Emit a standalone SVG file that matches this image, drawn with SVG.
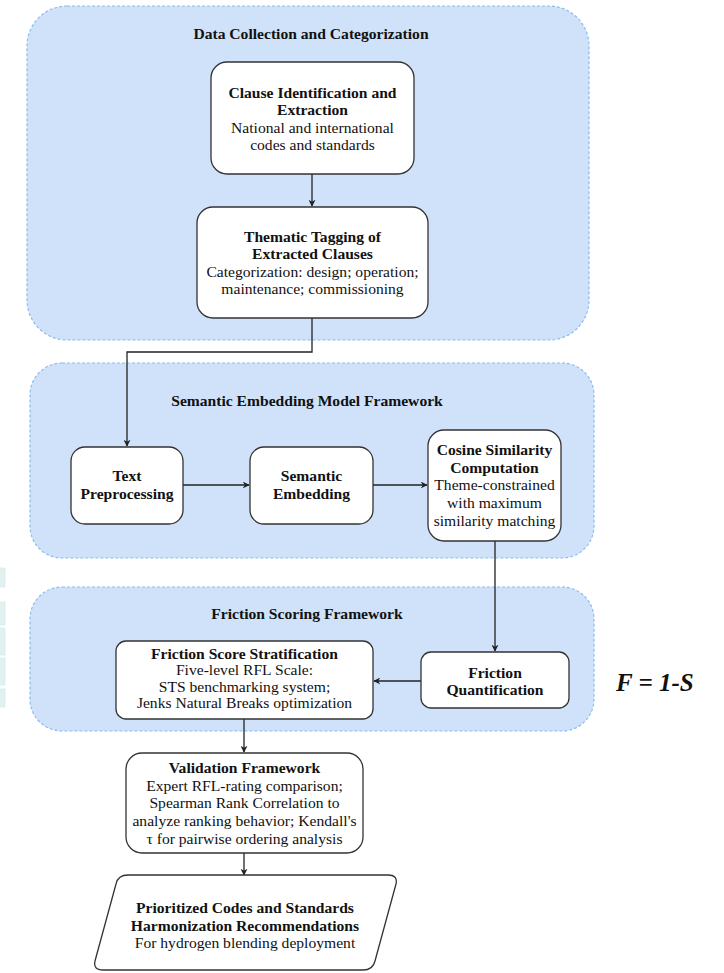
<svg xmlns="http://www.w3.org/2000/svg" width="724" height="973" viewBox="0 0 724 973">
<style>
.cont{fill:#cfe2f9;stroke:#8dbcf2;stroke-width:1.2;stroke-dasharray:3 2}
.node{fill:#ffffff;stroke:#333333;stroke-width:1.3}
.t{font-family:"Liberation Serif","Times New Roman",serif;font-size:15.6px;fill:#111;text-anchor:middle}
.b{font-weight:bold}
.title{font-family:"Liberation Serif","Times New Roman",serif;font-size:15.6px;font-weight:bold;fill:#111;text-anchor:middle}
.edge{fill:none;stroke:#222;stroke-width:1.3}
.strip{fill:#e2f1f0;stroke:#cfe6e4;stroke-width:0.6}
</style>
<defs>
<marker id="ah" viewBox="0 0 10 10" refX="9" refY="5" markerWidth="7" markerHeight="7" orient="auto" markerUnits="userSpaceOnUse">
<path d="M0,0 L10,5 L0,10 L3,5 Z" fill="#222"/>
</marker>
</defs>
<rect width="724" height="973" fill="#ffffff"/>
<g id="edge-strips">
<rect class="strip" x="-1" y="568" width="6" height="19"/>
<rect class="strip" x="-1" y="602" width="6" height="23"/>
<rect class="strip" x="-1" y="628" width="6" height="27"/>
<rect class="strip" x="-1" y="658" width="6" height="27"/>
<rect class="strip" x="-1" y="689" width="6" height="18"/>
</g>
<g id="group-data">
<rect class="cont" x="27" y="6" width="562" height="334" rx="40"/>
<text class="title" x="311" y="39">Data Collection and Categorization</text>
</g>
<g id="group-semantic">
<rect class="cont" x="30" y="363" width="564" height="195" rx="32"/>
<text class="title" x="307" y="406">Semantic Embedding Model Framework</text>
</g>
<g id="group-friction">
<rect class="cont" x="30" y="587" width="564" height="144" rx="32"/>
<text class="title" x="307" y="619">Friction Scoring Framework</text>
</g>
<g id="connectors">
<path class="edge" d="M312,174 L312,206" marker-end="url(#ah)"/>
<path class="edge" d="M312,318 L312,352 L127,352 L127,446" marker-end="url(#ah)"/>
<path class="edge" d="M183,485 L249,485" marker-end="url(#ah)"/>
<path class="edge" d="M373,485 L427,485" marker-end="url(#ah)"/>
<path class="edge" d="M495,541 L495,651" marker-end="url(#ah)"/>
<path class="edge" d="M421,681 L374,681" marker-end="url(#ah)"/>
<path class="edge" d="M244,719 L244,752" marker-end="url(#ah)"/>
<path class="edge" d="M244,853 L244,875" marker-end="url(#ah)"/>
</g>
<g id="node-clause">
<rect class="node" x="211" y="62" width="203" height="112" rx="16"/>
<text class="t b" x="312.5" y="98">Clause Identification and</text>
<text class="t b" x="312.5" y="115">Extraction</text>
<text class="t" x="312.5" y="133">National and international</text>
<text class="t" x="312.5" y="150">codes and standards</text>
</g>
<g id="node-tagging">
<rect class="node" x="197" y="207" width="231" height="111" rx="16"/>
<text class="t b" x="312.5" y="242">Thematic Tagging of</text>
<text class="t b" x="312.5" y="259">Extracted Clauses</text>
<text class="t" x="312.5" y="277">Categorization: design; operation;</text>
<text class="t" x="312.5" y="294">maintenance; commissioning</text>
</g>
<g id="node-text-preprocessing">
<rect class="node" x="71" y="447" width="112" height="77" rx="14"/>
<text class="t b" x="127" y="481">Text</text>
<text class="t b" x="127" y="499">Preprocessing</text>
</g>
<g id="node-semantic-embedding">
<rect class="node" x="250" y="447" width="123" height="77" rx="14"/>
<text class="t b" x="311.5" y="481">Semantic</text>
<text class="t b" x="311.5" y="499">Embedding</text>
</g>
<g id="node-cosine">
<rect class="node" x="428" y="430" width="133" height="111" rx="16"/>
<text class="t b" x="494.5" y="455">Cosine Similarity</text>
<text class="t b" x="494.5" y="473">Computation</text>
<text class="t" x="494.5" y="490">Theme-constrained</text>
<text class="t" x="494.5" y="508">with maximum</text>
<text class="t" x="494.5" y="526">similarity matching</text>
</g>
<g id="node-friction-quant">
<rect class="node" x="421" y="652" width="148" height="56" rx="10"/>
<text class="t b" x="495" y="678">Friction</text>
<text class="t b" x="495" y="695">Quantification</text>
</g>
<g id="node-friction-strat">
<rect class="node" x="116" y="641" width="257" height="78" rx="10"/>
<text class="t b" x="244.5" y="659">Friction Score Stratification</text>
<text class="t" x="244.5" y="675">Five-level RFL Scale:</text>
<text class="t" x="244.5" y="692">STS benchmarking system;</text>
<text class="t" x="244.5" y="708">Jenks Natural Breaks optimization</text>
</g>
<g id="formula">
<text x="616" y="691" font-family="'Liberation Serif','Times New Roman',serif" font-size="25" font-weight="bold" font-style="italic" fill="#111">F = 1-S</text>
</g>
<g id="node-validation">
<rect class="node" x="126" y="753" width="237" height="100" rx="16"/>
<text class="t b" x="244.5" y="773">Validation Framework</text>
<text class="t" x="244.5" y="791">Expert RFL-rating comparison;</text>
<text class="t" x="244.5" y="808">Spearman Rank Correlation to</text>
<text class="t" x="244.5" y="826">analyze ranking behavior; Kendall's</text>
<text class="t" x="244.5" y="844">τ for pairwise ordering analysis</text>
</g>
<g id="node-output">
<path class="node" d="M128,875 L388,875 Q398,875 396,884 L375,961 Q373,970 363,970 L103,970 Q93,970 95,961 L116,884 Q118,875 128,875 Z"/>
<text class="t b" x="245" y="913">Prioritized Codes and Standards</text>
<text class="t b" x="245" y="931">Harmonization Recommendations</text>
<text class="t" x="245" y="948">For hydrogen blending deployment</text>
</g>
</svg>
